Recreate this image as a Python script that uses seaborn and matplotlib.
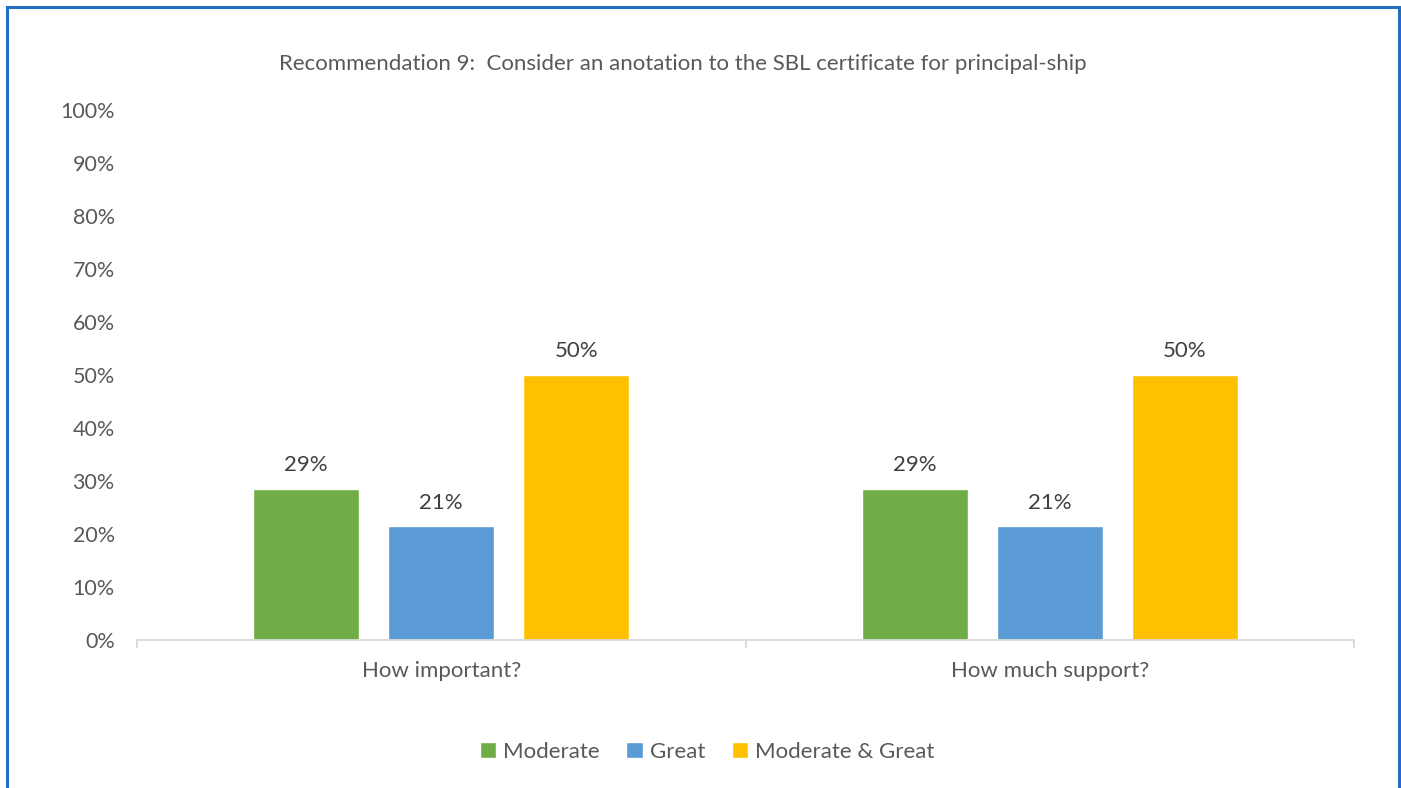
import matplotlib
matplotlib.use("Agg")
import matplotlib.pyplot as plt
import seaborn as sns
import pandas as pd
from matplotlib.patches import Rectangle

categories = ["How important?", "How much support?"]
series = ["Moderate", "Great", "Moderate & Great"]
moderate = [0.2857, 0.2857]
great = [0.2143, 0.2143]
both = [0.50, 0.50]
colors = ["#70AD47", "#5B9BD5", "#FFC000"]
title = "Recommendation 9:  Consider an anotation to the SBL certificate for principal-ship"

rows = []
for i, c in enumerate(categories):
    for s, vals in zip(series, [moderate, great, both]):
        rows.append({"cat": c, "series": s, "val": vals[i]})
df = pd.DataFrame(rows)

sns.set_theme(style="white")
plt.rcParams["font.family"] = ["Lato", "DejaVu Sans"]
grey = "#595959"

fig = plt.figure(figsize=(14.01, 7.88), dpi=100)
ax = fig.add_axes([137/1401, 1 - 640/788, (1354-137)/1401, (640-110)/788])

sns.barplot(data=df, x="cat", y="val", hue="series", order=categories,
            hue_order=series, palette=colors, width=0.666, gap=0.215,
            saturation=1, ax=ax, legend=True)

ax.set_xlim(-0.5, 1.5)
ax.set_ylim(0, 1)
ax.set_yticks([i/10 for i in range(11)])
ax.set_yticklabels([f"{i*10}%" for i in range(11)])
ax.set_xlabel("")
ax.set_ylabel("")
for sp in ["top", "right", "left"]:
    ax.spines[sp].set_visible(False)
ax.spines["bottom"].set_color("#D9D9D9")
ax.spines["bottom"].set_linewidth(1.3)
ax.tick_params(axis="y", length=0, labelsize=15.5, labelcolor=grey, pad=16)
ax.tick_params(axis="x", length=0, labelsize=16, labelcolor=grey, pad=15)
ax.set_xticks([0, 1], minor=False)
ax.set_xticks([-0.5, 0.5, 1.5], minor=True)
ax.tick_params(axis="x", which="minor", length=6, color="#D9D9D9", width=1.3, bottom=True)

for cont in ax.containers:
    ax.bar_label(cont, labels=[f"{v*100:.0f}%" for v in cont.datavalues],
                 padding=10, fontsize=16, color="#404040")

fig.text(683/1401, 1 - 64/788, title, ha="center", va="center",
         fontsize=16, color=grey)

leg = ax.legend(loc="center", bbox_to_anchor=(707/1401, 1 - 752/788),
                bbox_transform=fig.transFigure, ncol=3, frameon=False,
                fontsize=16, handlelength=0.75, handleheight=0.75,
                handletextpad=0.3, columnspacing=1.2)
for t in leg.get_texts():
    t.set_color(grey)

fig.patches.append(Rectangle((7/1401, -0.05), (1399-7)/1401, 1 - 7/788 + 0.05,
                             transform=fig.transFigure, fill=False,
                             edgecolor="#1F6FC0", linewidth=2.2, zorder=10))

fig.savefig("out.png", dpi=100, facecolor="white")
